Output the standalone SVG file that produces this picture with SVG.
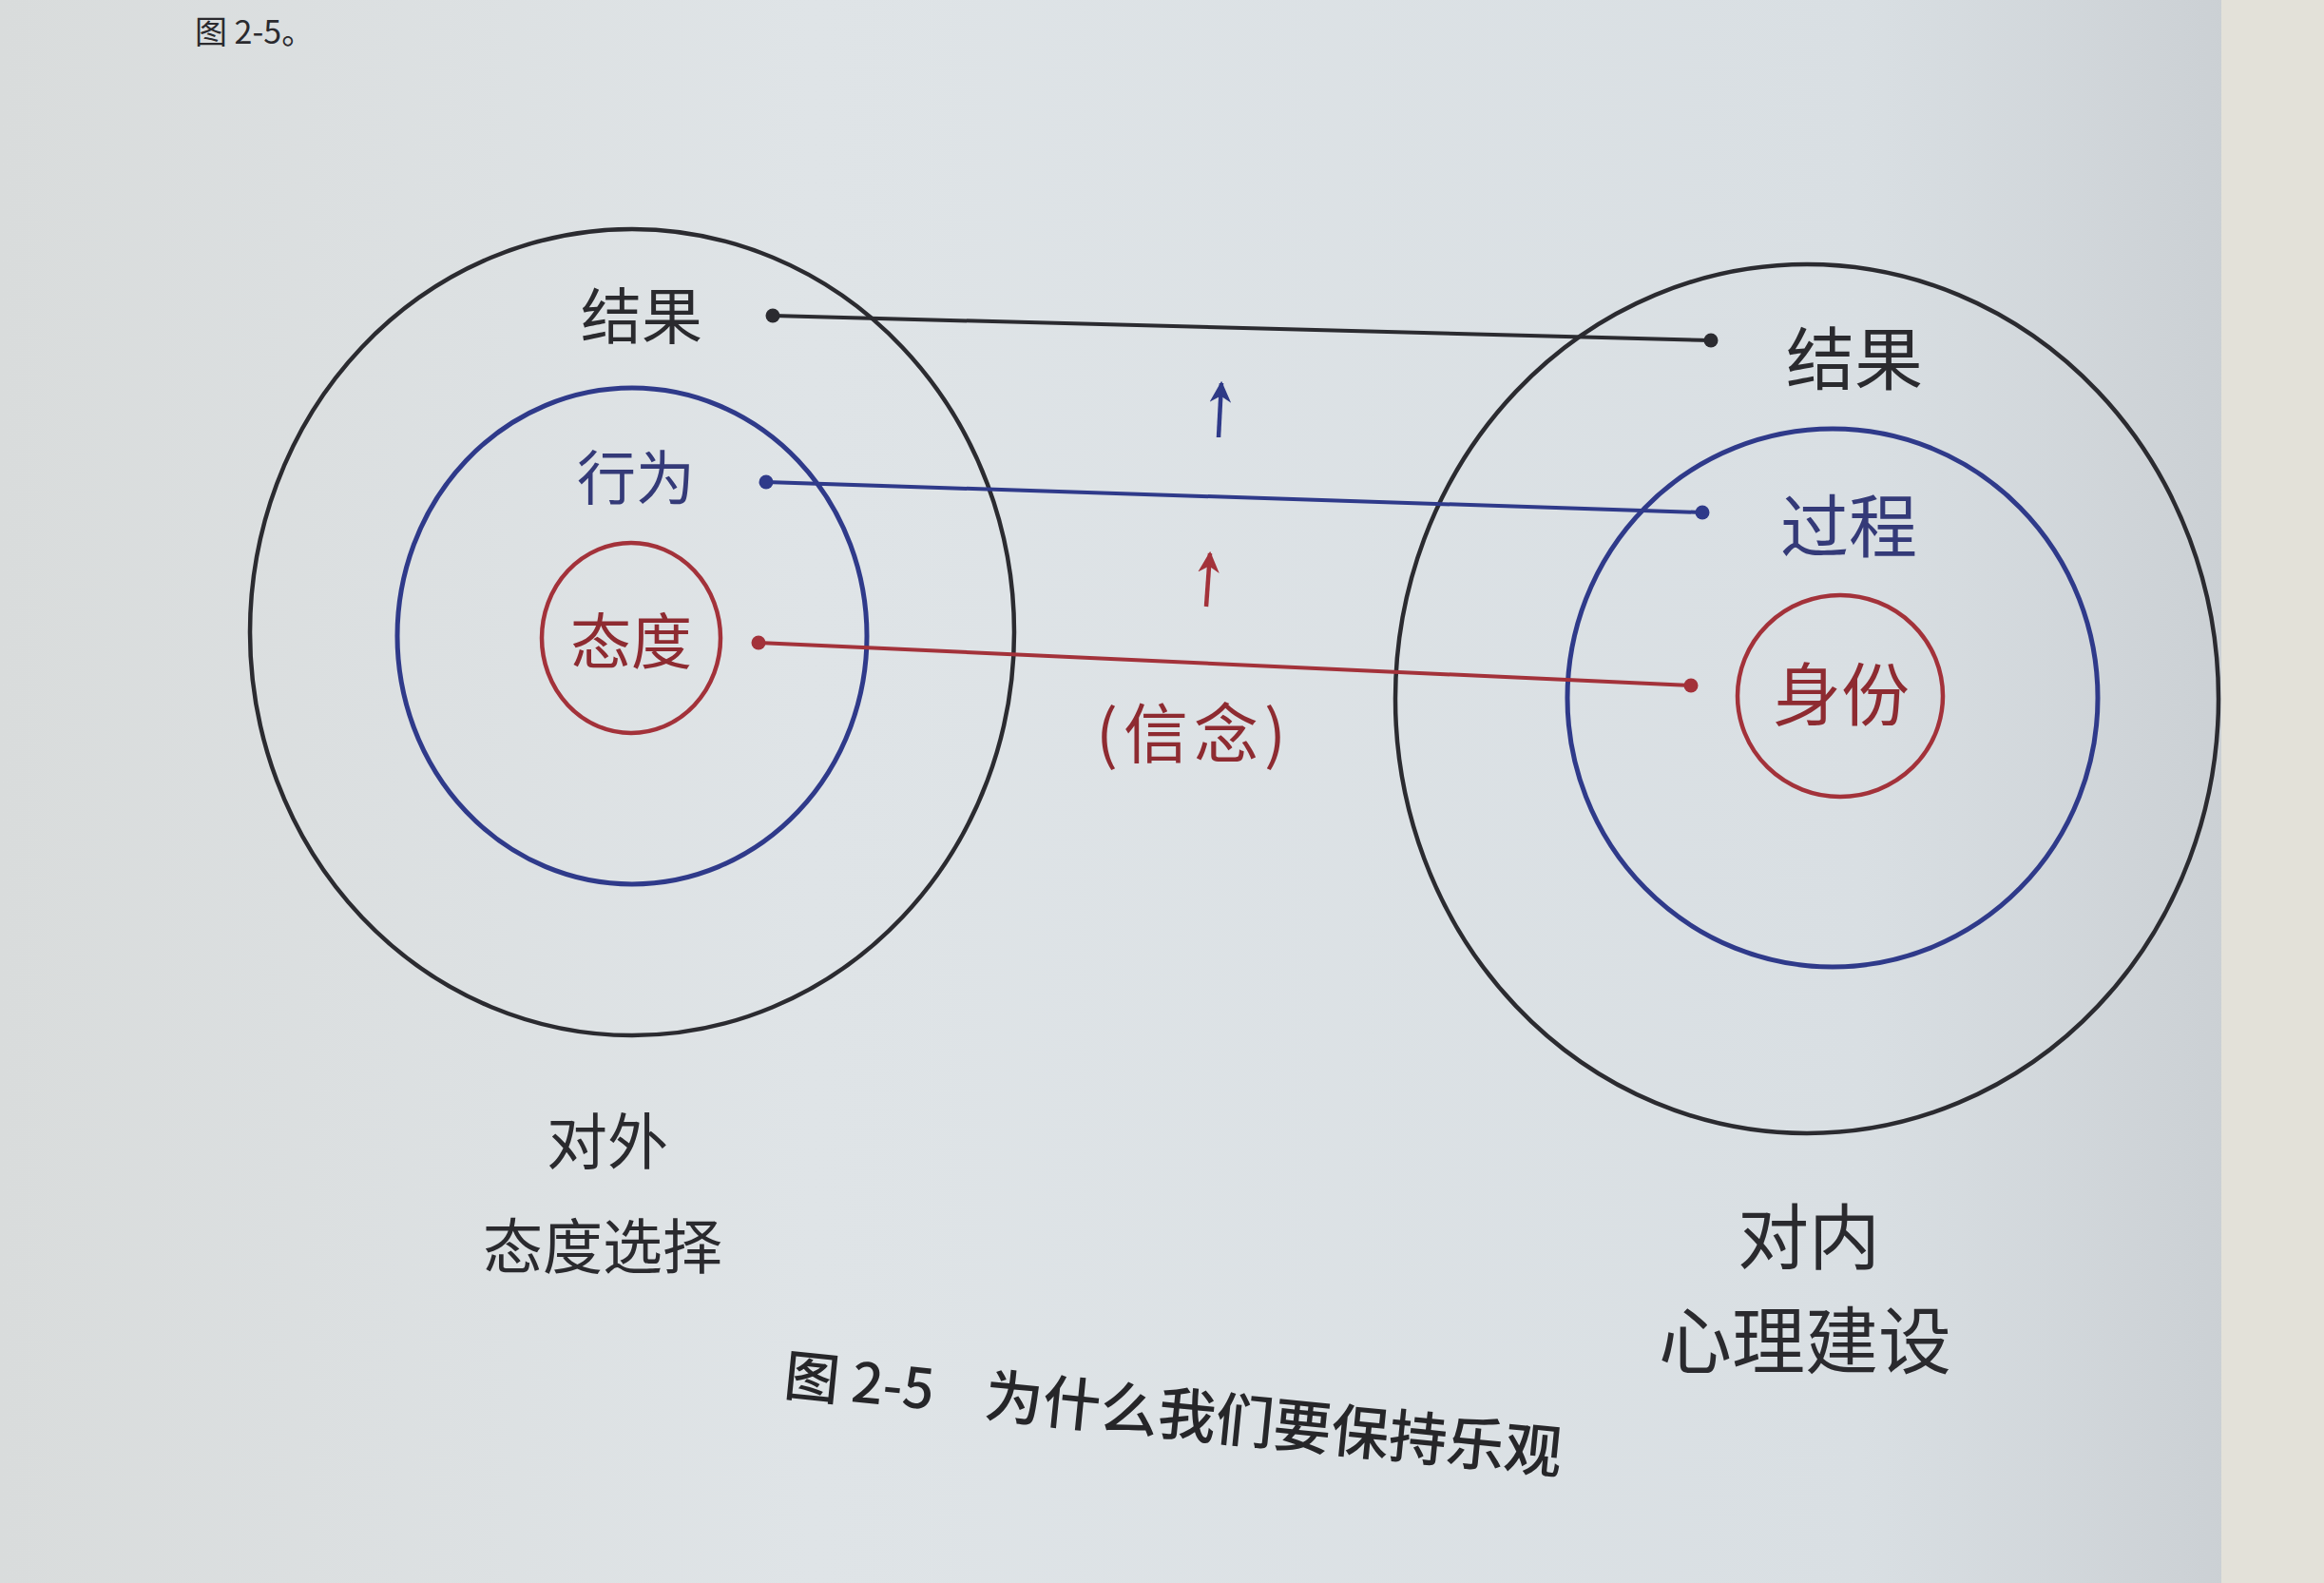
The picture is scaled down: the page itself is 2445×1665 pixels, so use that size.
<svg xmlns="http://www.w3.org/2000/svg" width="2445" height="1665" viewBox="0 0 2445 1665">
  <defs>
    <linearGradient id="paper" x1="0" y1="0" x2="1" y2="0">
      <stop offset="0" stop-color="#d9dcdc"/>
      <stop offset="0.35" stop-color="#dfe4e7"/>
      <stop offset="0.8" stop-color="#d9dfe3"/>
      <stop offset="0.95" stop-color="#ccd1d5"/>
      <stop offset="1" stop-color="#c6cbcf"/>
    </linearGradient>
    <marker id="ahBlue" viewBox="0 0 10 10" refX="9" refY="5" markerWidth="5" markerHeight="5" orient="auto" markerUnits="strokeWidth">
      <path d="M0,0 L10,5 L0,10 L3,5 Z" fill="#2e3a86"/>
    </marker>
    <marker id="ahRed" viewBox="0 0 10 10" refX="9" refY="5" markerWidth="5" markerHeight="5" orient="auto" markerUnits="strokeWidth">
      <path d="M0,0 L10,5 L0,10 L3,5 Z" fill="#a3323a"/>
    </marker>
  </defs>
  <style>
    .t { font-family: "Noto Sans CJK SC", "Noto Sans", sans-serif; font-weight: 400; text-anchor: middle; dominant-baseline: central; }
    .k { fill: #2a2a2e; }
    .b { fill: #343a78; }
    .r { fill: #8e2b31; }
    .ck { fill: none; stroke: #2b2b30; stroke-width: 4.5; }
    .cb { fill: none; stroke: #2f3a8a; stroke-width: 5; }
    .cr { fill: none; stroke: #a3323a; stroke-width: 4.5; }
    .lk { stroke: #2b2b30; stroke-width: 4; fill: none; }
    .lb { stroke: #2f3a8a; stroke-width: 4; fill: none; }
    .lr { stroke: #a3323a; stroke-width: 4; fill: none; }
  </style>

  <rect x="0" y="0" width="2445" height="1665" fill="url(#paper)"/>
  <rect x="2337" y="0" width="108" height="1665" fill="#e3e1d9"/>

  <!-- page text at top -->
  <text x="205" y="46" font-family="'Noto Sans CJK SC', sans-serif" font-size="34" fill="#2a2a2e">图 2-5。</text>

  <!-- left node: 对外 态度选择 -->
  <g id="left-outer">
    <ellipse class="ck" cx="665" cy="665" rx="402" ry="424"/>
    <text class="t k" x="675" y="328" font-size="64">结果</text>
  </g>
  <g id="left-middle">
    <ellipse class="cb" cx="665" cy="669" rx="247" ry="261"/>
    <text class="t b" x="669" y="499" font-size="62">行为</text>
  </g>
  <g id="left-inner">
    <ellipse class="cr" cx="664" cy="671" rx="94" ry="100"/>
    <text class="t r" x="664" y="670" font-size="64">态度</text>
  </g>
  <g id="left-label">
    <text class="t k" x="639" y="1196" font-size="64">对外</text>
    <text class="t k" x="634" y="1306" font-size="63">态度选择</text>
  </g>

  <!-- right node: 对内 心理建设 -->
  <g id="right-outer">
    <ellipse class="ck" cx="1901" cy="735" rx="433" ry="457"/>
    <text class="t k" x="1951" y="372" font-size="72">结果</text>
  </g>
  <g id="right-middle">
    <ellipse class="cb" cx="1928" cy="734" rx="279" ry="283"/>
    <text class="t b" x="1945" y="548" font-size="72">过程</text>
  </g>
  <g id="right-inner">
    <ellipse class="cr" cx="1936" cy="732" rx="108" ry="106"/>
    <text class="t r" x="1937" y="725" font-size="72">身份</text>
  </g>
  <g id="right-label">
    <text class="t k" x="1903" y="1296" font-size="75">对内</text>
    <text class="t k" x="1899" y="1405" font-size="77">心理建设</text>
  </g>

  <!-- connectors -->
  <g id="connectors">
    <line class="lk" x1="813" y1="332" x2="1800" y2="358"/>
    <circle cx="813" cy="332" r="7.5" fill="#2b2b30"/>
    <circle cx="1800" cy="358" r="7.5" fill="#2b2b30"/>

    <line class="lb" x1="806" y1="507" x2="1791" y2="539"/>
    <circle cx="806" cy="507" r="7.5" fill="#2f3a8a"/>
    <circle cx="1791" cy="539" r="7.5" fill="#2f3a8a"/>

    <line class="lr" x1="798" y1="676" x2="1779" y2="721"/>
    <circle cx="798" cy="676" r="7.5" fill="#a3323a"/>
    <circle cx="1779" cy="721" r="7.5" fill="#a3323a"/>

    <line x1="1282" y1="460" x2="1285" y2="403" stroke="#2f3a8a" stroke-width="4.5" marker-end="url(#ahBlue)"/>
    <line x1="1269" y1="638" x2="1273" y2="582" stroke="#a3323a" stroke-width="4.5" marker-end="url(#ahRed)"/>
  </g>

  <g id="belief-label">
    <text class="t r" x="1256" y="767" font-size="68" letter-spacing="6">(信念)</text>
  </g>

  <g id="caption" transform="rotate(5.7 826 1442)">
    <text x="826" y="1442" font-family="'Noto Sans CJK SC', sans-serif" font-weight="500" font-size="58" fill="#262629" dominant-baseline="central">图 2-5</text>
    <text x="1038" y="1442" font-family="'Noto Sans CJK SC', sans-serif" font-weight="500" font-size="61" fill="#262629" dominant-baseline="central">为什么我们要保持乐观</text>
  </g>
</svg>
